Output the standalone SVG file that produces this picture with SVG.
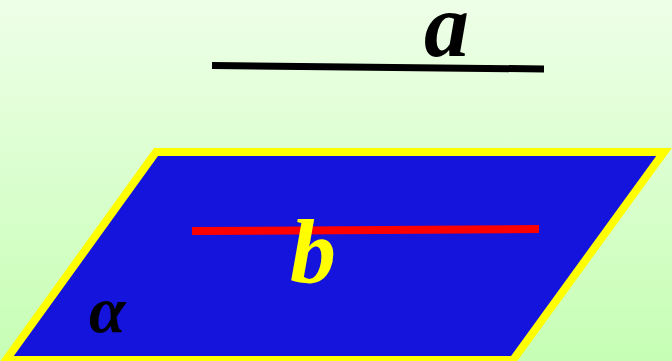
<svg xmlns="http://www.w3.org/2000/svg" width="672" height="361" viewBox="0 0 672 361">
<defs>
<linearGradient id="bg" x1="0" y1="0" x2="0" y2="1">
<stop offset="0" stop-color="#EEFFE8"/>
<stop offset="1" stop-color="#C6FEB4"/>
</linearGradient>
<style>
.lbl{font-family:"Liberation Serif","Times New Roman",serif;font-style:italic;font-weight:bold;}
</style>
</defs>
<rect x="0" y="0" width="672" height="361" fill="url(#bg)"/>
<g id="plane-alpha">
<polygon points="156,152 664,152 513,360 6,360" fill="#1414DC" stroke="#FFFF00" stroke-width="8" stroke-linejoin="miter"/>
<text class="lbl" x="89" y="332" font-size="66" font-weight="normal" fill="#000000">α</text>
</g>
<g id="line-a">
<line x1="212" y1="65.5" x2="544" y2="69" stroke="#000000" stroke-width="7"/>
<text class="lbl" x="424" y="56" font-size="90" fill="#000000">a</text>
</g>
<g id="line-b">
<line x1="192" y1="231" x2="539" y2="229" stroke="#FF0000" stroke-width="8"/>
<text class="lbl" x="290" y="282" font-size="92" fill="#FFFF00">b</text>
</g>
</svg>
